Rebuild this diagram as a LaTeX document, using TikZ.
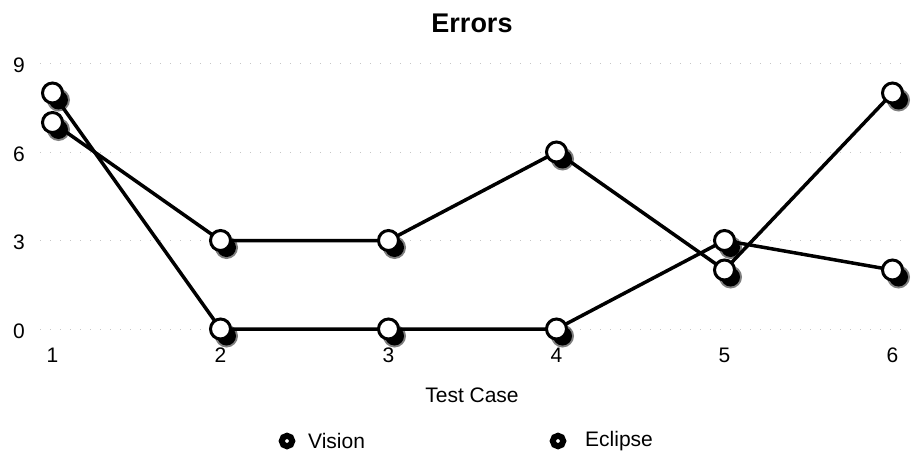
\documentclass[tikz,border=0pt]{standalone}
\usepackage{fontspec}
\setmainfont{Liberation Sans}
\begin{document}
\begin{tikzpicture}[x=1pt,y=-1pt,
  lbl/.style={font=\fontsize{21}{24}\selectfont, inner sep=0pt},
  ttl/.style={font=\fontsize{27}{30}\selectfont\bfseries, inner sep=0pt},
  grid/.style={gray!45, line width=0.8pt, dash pattern=on 1pt off 9pt},
  series/.style={black, line width=3.5pt, line join=round},
  shade/.style={fill=black, draw=none},
  marker/.style={circle, draw=black, fill=white, line width=3pt, minimum size=20pt, inner sep=0pt},
  legmark/.style={circle, draw=black, fill=white, line width=6pt, minimum size=10.5pt, inner sep=0pt}]
\useasboundingbox (0,0) rectangle (912,460);
% grid
\foreach \v/\yy in {9/63.5,6/152,3/240.5,0/329}{
  \draw[grid] (40,\yy) -- (905,\yy);
  \node[lbl] (ylab\v) at (19,\yy+2) {\v};
}
% x tick labels
\foreach \i in {1,...,6}{
  \node[lbl] (xlab\i) at ({52.5+168*(\i-1)},355) {\i};
}
\node[ttl] (title) at (472,23) {Errors};
\node[lbl] (xtitle) at (472,395) {Test Case};
% data points
\foreach \i/\a/\b in {1/8/7,2/0/3,3/0/3,4/0/6,5/3/2,6/2/8}{
  \coordinate (v\i) at ({52.5+168*(\i-1)},{329-29.5*\a});
  \coordinate (e\i) at ({52.5+168*(\i-1)},{329-29.5*\b});
}
\draw[series] (v1) -- (v2) -- (v3) -- (v4) -- (v5) -- (v6);
\draw[series] (e1) -- (e2) -- (e3) -- (e4) -- (e5) -- (e6);
% shadows
\foreach \i in {1,...,6}{
  \fill[shade, opacity=0.5] ([shift={(6,7)}]v\i) circle (11.5);
  \fill[shade] ([shift={(6,7)}]v\i) circle (9.5);
  \fill[shade, opacity=0.5] ([shift={(6,7)}]e\i) circle (11.5);
  \fill[shade] ([shift={(6,7)}]e\i) circle (9.5);
}
% markers
\foreach \i in {1,...,6}{
  \node[marker] (mv\i) at (v\i) {};
  \node[marker] (me\i) at (e\i) {};
}
% legend
\node[legmark] (lv) at (287,441) {};
\node[lbl, anchor=west] (tv) at (308,441) {Vision};
\node[legmark] (le) at (558,441) {};
\node[lbl, anchor=west] (te) at (585,441) {Eclipse};
\end{tikzpicture}
\end{document}
